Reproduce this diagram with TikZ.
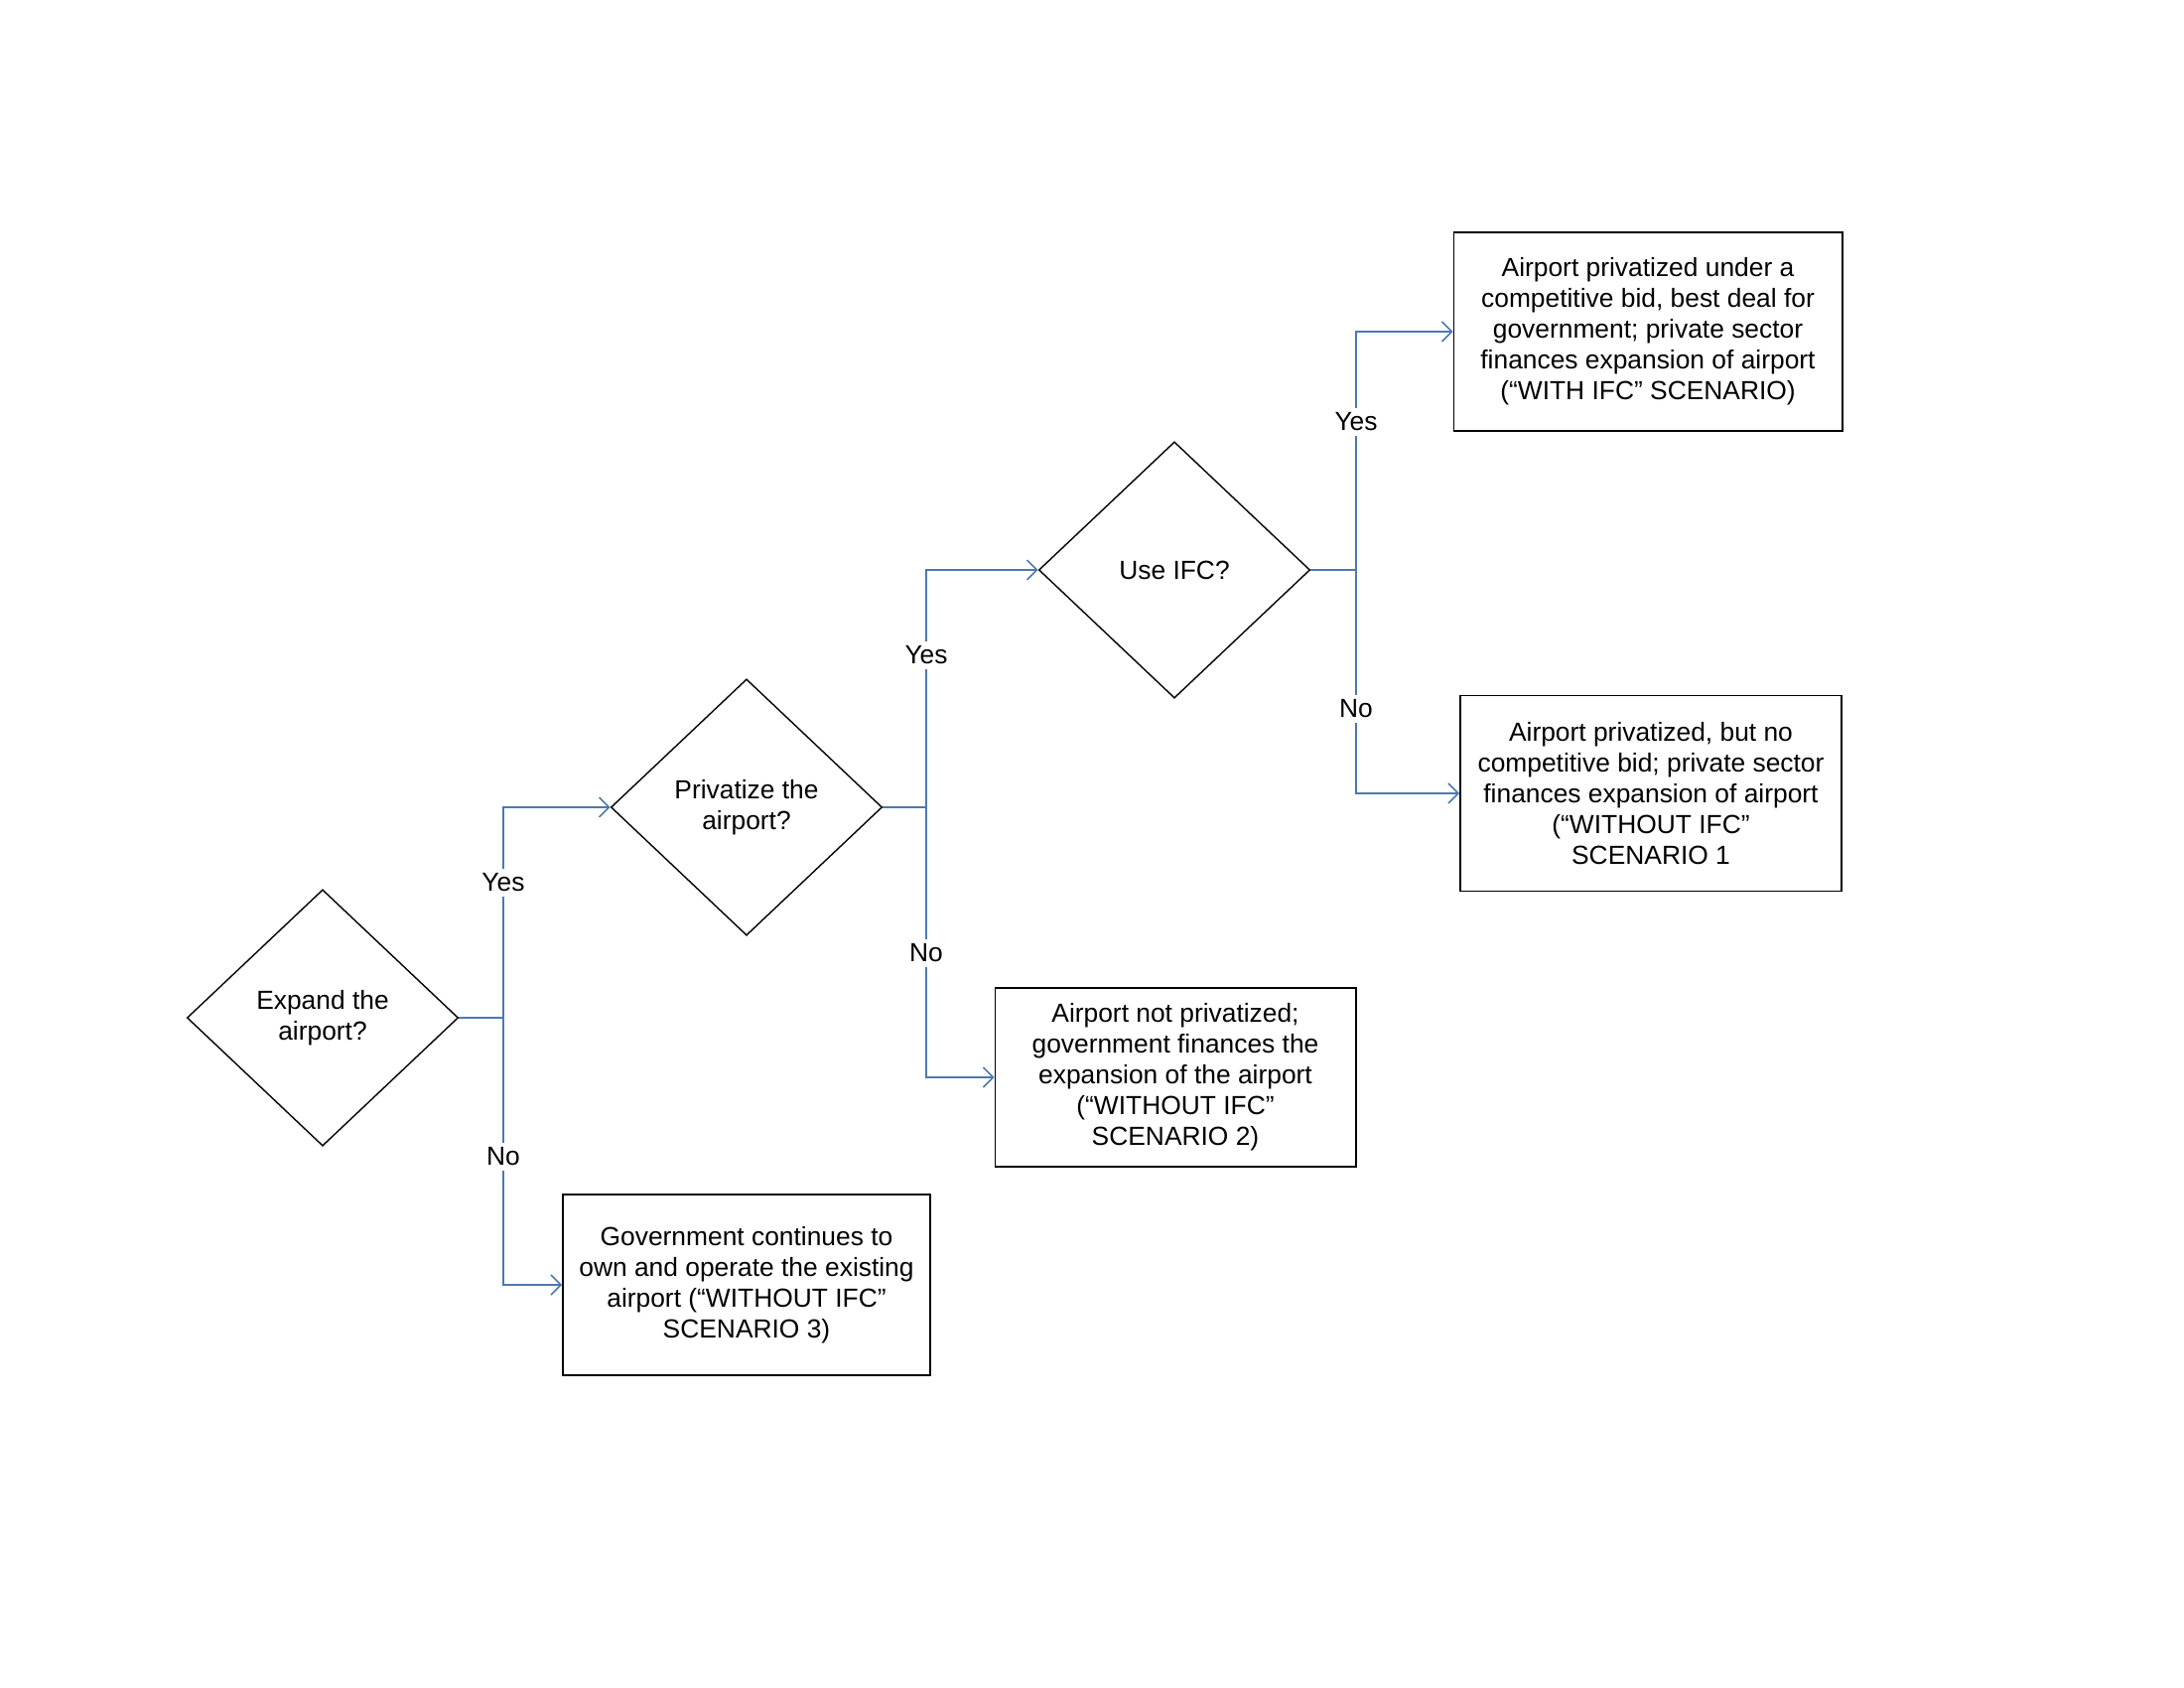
\documentclass[tikz,border=0pt]{standalone}
\usepackage{fontspec}
\setmainfont{Liberation Sans}
\usetikzlibrary{shapes.geometric,arrows.meta}
\definecolor{conn}{HTML}{4A7AB0}
\begin{document}
\begin{tikzpicture}[x=0.01cm,y=-0.01cm,
  every node/.style={font=\fontsize{7.5pt}{8.8pt}\selectfont},
  decision/.style={draw=black,line width=0.4pt,shape=diamond,inner sep=0pt,
     minimum width=2.73cm,minimum height=2.58cm,align=center},
  outcome/.style={draw=black,line width=0.5pt,shape=rectangle,align=center,inner sep=0pt},
  conline/.style={draw=conn,line width=0.45pt},
  conarrow/.style={conline,-{Straight Barb[length=1mm,width=2mm]}},
  branchlabel/.style={fill=white,inner sep=1.5pt}]
\useasboundingbox (0,0) rectangle (2200,1700);
% decisions
\node[decision] (A) at (325,1025) {Expand the\\airport?};
\node[decision] (B) at (752,813) {Privatize the\\airport?};
\node[decision] (C) at (1183,574) {Use IFC?};
% outcomes
\node[outcome,minimum width=3.91cm,minimum height=2.00cm] (O1) at (1660,334)
  {Airport privatized under a\\competitive bid, best deal for\\government; private sector\\finances expansion of airport\\(“WITH IFC” SCENARIO)};
\node[outcome,minimum width=3.84cm,minimum height=1.97cm] (O2) at (1663,799)
  {Airport privatized, but no\\competitive bid; private sector\\finances expansion of airport\\(“WITHOUT IFC”\\SCENARIO 1};
\node[outcome,minimum width=3.63cm,minimum height=1.80cm] (O3) at (1184,1085)
  {Airport not privatized;\\government finances the\\expansion of the airport\\(“WITHOUT IFC”\\SCENARIO 2)};
\node[outcome,minimum width=3.70cm,minimum height=1.82cm] (O4) at (752,1294)
  {Government continues to\\own and operate the existing\\airport (“WITHOUT IFC”\\SCENARIO 3)};
% junctions
\coordinate (jA) at (507,1025);
\coordinate (jB) at (933,813);
\coordinate (jC) at (1366,574);
% connectors
\draw[conline] (A.east) -- (jA);
\draw[conarrow] (jA) |- (B.west);
\draw[conarrow] (jA) |- (O4.west);
\draw[conline] (B.east) -- (jB);
\draw[conarrow] (jB) |- (C.west);
\draw[conarrow] (jB) |- (O3.west);
\draw[conline] (C.east) -- (jC);
\draw[conarrow] (jC) |- (O1.west);
\draw[conarrow] (jC) |- (O2.west);
% labels
\node[branchlabel] (yA) at (507,889) {Yes};
\node[branchlabel] (nA) at (507,1165) {No};
\node[branchlabel] (yB) at (933,660) {Yes};
\node[branchlabel] (nB) at (933,960) {No};
\node[branchlabel] (yC) at (1366,425) {Yes};
\node[branchlabel] (nC) at (1366,714) {No};
\end{tikzpicture}
\end{document}
